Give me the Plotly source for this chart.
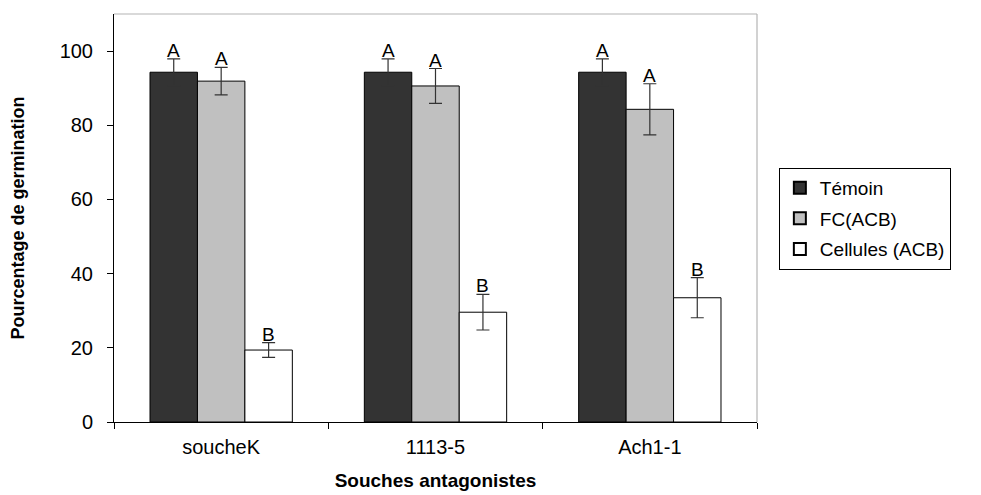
import plotly.graph_objects as go

categories = ["soucheK", "1113-5", "Ach1-1"]
series_names = ["Témoin", "FC(ACB)", "Cellules (ACB)"]
temoin = [94.3, 94.3, 94.3]
temoin_err = [3.6, 3.6, 3.6]
fc = [91.9, 90.6, 84.3]
fc_err = [3.7, 4.7, 6.9]
cellules = [19.4, 29.6, 33.5]
cellules_err = [2.0, 4.8, 5.4]
letters_temoin = ["A", "A", "A"]
letters_fc = ["A", "A", "A"]
letters_cellules = ["B", "B", "B"]

FONT = "Liberation Sans, Arial, sans-serif"
colors = ["#333333", "#c0c0c0", "#ffffff"]
values = [temoin, fc, cellules]
errors = [temoin_err, fc_err, cellules_err]
letters = [letters_temoin, letters_fc, letters_cellules]

fig = go.Figure()
for name, vals, errs, col in zip(series_names, values, errors, colors):
    fig.add_trace(go.Bar(
        name=name, x=categories, y=vals, legendgroup=name,
        marker=dict(color=col, line=dict(color="#000000", width=1)),
        error_y=dict(type="data", array=errs, visible=True,
                     color="#333333", thickness=1.2, width=6.5),
    ))

bargap = 0.336
bar_w = (1 - bargap) / 3
annotations = []
for s, (vals, errs, labs) in enumerate(zip(values, errors, letters)):
    for i, (v, e, lab) in enumerate(zip(vals, errs, labs)):
        annotations.append(dict(
            x=i + (s - 1) * bar_w, y=v + e, xref="x", yref="y",
            text=lab, showarrow=False, yanchor="bottom", yshift=-4,
            font=dict(family=FONT, size=19, color="#000000"),
        ))

fig.update_layout(
    width=981, height=495,
    margin=dict(l=114, r=224, t=14, b=73, autoexpand=False),
    paper_bgcolor="white", plot_bgcolor="white",
    barmode="group", bargap=bargap, bargroupgap=0,
    font=dict(family=FONT, size=19, color="#000000"),
    showlegend=True,
    legend=dict(
        x=1.034, xanchor="left", y=0.623, yanchor="top",
        bordercolor="#000000", borderwidth=1,
        font=dict(family=FONT, size=19, color="#000000"),
        tracegroupgap=3, itemsizing="constant",
    ),
    annotations=annotations,
    xaxis=dict(
        type="category", range=[-0.5, 2.5],
        showline=True, linecolor="#000000", linewidth=1,
        ticks="outside", tickson="boundaries", ticklen=6, tickcolor="#000000",
        showgrid=False, tickfont=dict(size=20), ticklabelstandoff=7,
        title=dict(text="<b>Souches antagonistes</b>", font=dict(size=19), standoff=16),
    ),
    yaxis=dict(
        range=[0, 110], dtick=20, showline=True, linecolor="#000000", linewidth=1,
        ticks="outside", ticklen=6, tickcolor="#000000", showgrid=False,
        zeroline=False, tickfont=dict(size=20), ticklabelstandoff=10,
        title=dict(text="<b>Pourcentage de germination</b>", font=dict(size=18), standoff=30),
    ),
    shapes=[
        dict(type="line", xref="paper", yref="paper", x0=0, x1=1, y0=1, y1=1,
             line=dict(color="#b4b4b4", width=1.2)),
        dict(type="line", xref="paper", yref="paper", x0=1, x1=1, y0=0, y1=1,
             line=dict(color="#b4b4b4", width=1.2)),
    ],
)

fig.write_html("out.html")
